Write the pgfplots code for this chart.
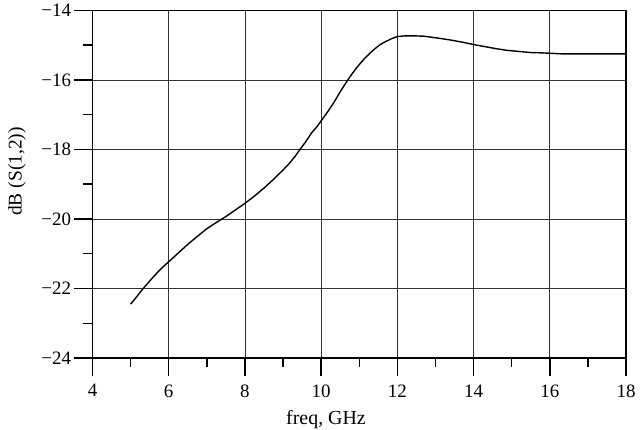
\documentclass[border=0pt]{standalone}
\usepackage{fontspec}
\setmainfont{Liberation Serif}
\usepackage{pgfplots}
\pgfplotsset{compat=1.18}
\begin{document}
\begin{tikzpicture}
\begin{axis}[
  name=ax,
  scale only axis,
  width=533.5bp, height=347.5bp,
  xmin=4, xmax=18, ymin=-24, ymax=-14,
  xtick={4,6,...,18},
  ytick={-24,-22,...,-14},
  yticklabels={−24,−22,−20,−18,−16,−14},
  minor x tick num=1, minor y tick num=1,
  tick align=outside,
  xtick pos=lower, ytick pos=left,
  major tick length=18bp, minor tick length=9bp,
  every tick/.append style={black, line width=1.5bp},
  axis line style={black, line width=1.5bp},
  grid=major,
  major grid style={black!80, line width=0.8bp},
  ticklabel style={font=\fontsize{19}{22}\selectfont},
  xticklabel style={yshift=-5bp},
  /pgf/number format/assume math mode=true,
  xlabel={freq, GHz},
  ylabel={dB (S(1,2))},
  every axis x label/.style={font=\fontsize{20}{24}\selectfont, at={(axis description cs:0.4377,0)}, anchor=base, yshift=-66bp},
  every axis y label/.style={font=\fontsize{19.5}{23}\selectfont, at={(axis description cs:0,0.5367)}, xshift=-75.5bp, rotate=90, anchor=center},
]
\addplot[black, line width=1.4bp, mark=none] coordinates {
(5.00,-22.45) (5.15,-22.25) (5.30,-22.04) (5.45,-21.85) (5.60,-21.66)
(5.80,-21.43) (6.00,-21.23) (6.25,-20.98) (6.50,-20.73) (6.75,-20.50)
(7.00,-20.28) (7.25,-20.10) (7.50,-19.93) (7.75,-19.74) (8.00,-19.55)
(8.25,-19.34) (8.50,-19.11) (8.75,-18.86) (9.00,-18.59) (9.15,-18.42)
(9.30,-18.22) (9.45,-17.99) (9.60,-17.77) (9.75,-17.52) (9.90,-17.33)
(10.05,-17.10) (10.20,-16.87) (10.35,-16.62) (10.50,-16.34) (10.65,-16.08)
(10.80,-15.84) (10.95,-15.62) (11.10,-15.43) (11.25,-15.26) (11.40,-15.11)
(11.55,-14.98) (11.70,-14.89) (11.85,-14.81) (12.00,-14.75) (12.20,-14.73)
(12.45,-14.73) (12.70,-14.74) (12.90,-14.77) (13.10,-14.80) (13.40,-14.85)
(13.70,-14.91) (14.00,-14.98) (14.30,-15.04) (14.60,-15.10) (14.90,-15.15)
(15.20,-15.18) (15.50,-15.21) (15.80,-15.22) (16.00,-15.23) (16.35,-15.25)
(17.00,-15.25) (17.50,-15.25) (18.00,-15.25)
};
\end{axis}
\pgfresetboundingbox
\path[use as bounding box] ([xshift=-92.5bp,yshift=-72bp]ax.south west) rectangle ++(640bp,430bp);
\end{tikzpicture}
\end{document}
